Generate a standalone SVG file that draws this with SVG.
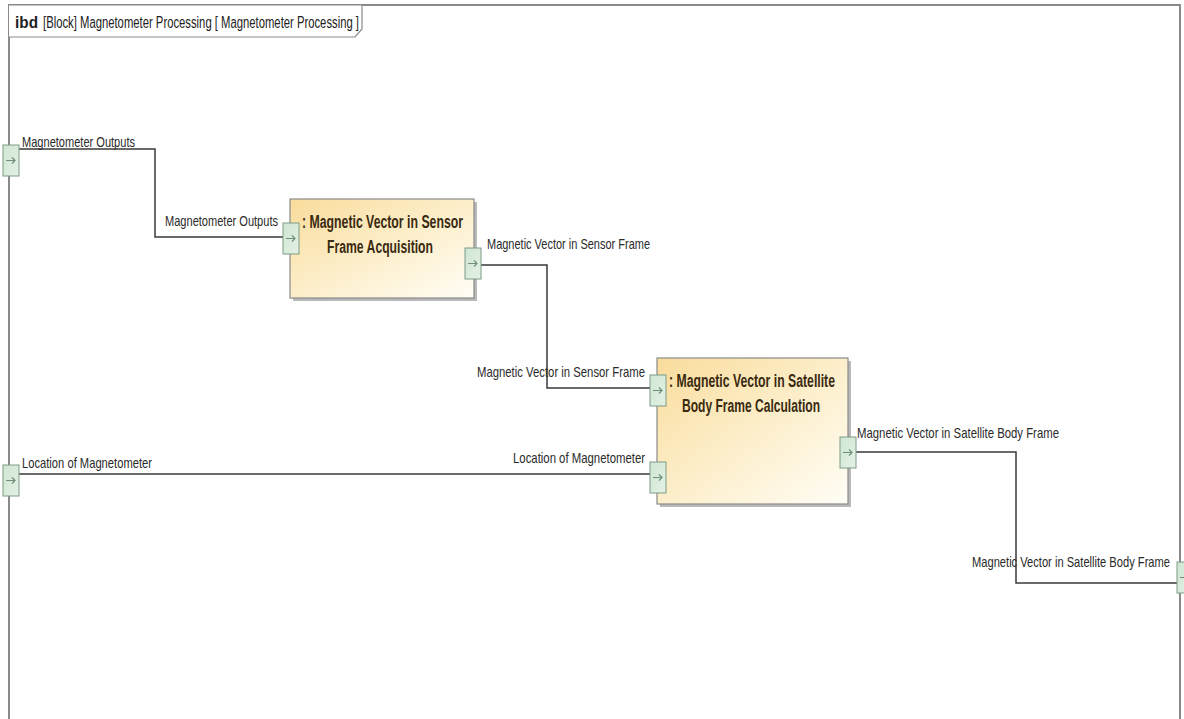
<svg xmlns="http://www.w3.org/2000/svg" width="1184" height="719" viewBox="0 0 1184 719">
  <defs>
    <linearGradient id="partFill" x1="0" y1="0" x2="1" y2="1">
      <stop offset="0" stop-color="#f9dc9c"/>
      <stop offset="0.55" stop-color="#fdf0cf"/>
      <stop offset="1" stop-color="#fffdf6"/>
    </linearGradient>
    <linearGradient id="portFill" x1="0" y1="0" x2="1" y2="1">
      <stop offset="0" stop-color="#cfe6d2"/>
      <stop offset="1" stop-color="#e4f1e5"/>
    </linearGradient>
    <g id="port">
      <rect x="0" y="0" width="16" height="31" fill="url(#portFill)" stroke="#7c9c86" stroke-width="1"/>
      <path d="M3 15.5 H12 M9 12.5 L12 15.5 L9 18.5" fill="none" stroke="#6f8f7a" stroke-width="1.2"/>
    </g>
  </defs>
  <style>
    .lbl { font-family: "Liberation Sans", Arial, sans-serif; font-size: 15px; fill: #2a2a2a; }
    .ttl { font-family: "Liberation Sans", Arial, sans-serif; font-size: 18px; font-weight: bold; fill: #3a2a10; }
    .hdr { font-family: "Liberation Sans", Arial, sans-serif; font-size: 16px; fill: #222; }
    .wire { fill: none; stroke: #3a3a3a; stroke-width: 1.5; }
    .part { fill: url(#partFill); stroke: #8a8a8a; stroke-width: 1.2; }
    .shadow { fill: #b9b9b9; }
  </style>

  <rect width="1184" height="719" fill="#ffffff"/>

  <!-- diagram frame -->
  <g id="frame">
    <path d="M9 725 V5 H1180 V725" fill="none" stroke="#8a8a8a" stroke-width="2"/>
    <path d="M9 5 H362 V29 L355 37 H9" fill="#ffffff" stroke="#8a8a8a" stroke-width="1.2"/>
    <text class="hdr" x="15" y="28" font-size="15" font-weight="bold" textLength="23" lengthAdjust="spacingAndGlyphs">ibd</text>
    <text class="hdr" x="43" y="28" textLength="316" lengthAdjust="spacingAndGlyphs">[Block] Magnetometer Processing [ Magnetometer Processing ]</text>
  </g>

  <!-- connectors -->
  <g id="connectors">
    <polyline class="wire" points="18,149 155,149 155,237 283,237"/>
    <polyline class="wire" points="481,265 547,265 547,388 650,388"/>
    <polyline class="wire" points="18,474 650,474"/>
    <polyline class="wire" points="856,452 1016,452 1016,583 1177,583"/>
  </g>

  <!-- frame boundary ports -->
  <g id="port-magnetometer-outputs">
    <use href="#port" x="3" y="145"/>
    <text class="lbl" x="22" y="147" textLength="113" lengthAdjust="spacingAndGlyphs">Magnetometer Outputs</text>
  </g>
  <g id="port-location-of-magnetometer">
    <use href="#port" x="3" y="465"/>
    <text class="lbl" x="22" y="468" textLength="130" lengthAdjust="spacingAndGlyphs">Location of Magnetometer</text>
  </g>
  <g id="port-satellite-body-frame-out">
    <use href="#port" x="1177" y="562"/>
    <text class="lbl" x="972" y="567" textLength="198" lengthAdjust="spacingAndGlyphs">Magnetic Vector in Satellite Body Frame</text>
  </g>

  <!-- part: sensor frame acquisition -->
  <g id="sensor-frame-acquisition">
    <rect class="shadow" x="293" y="202" width="184" height="99"/>
    <rect class="part" x="290" y="199" width="184" height="99"/>
    <text class="ttl" x="302" y="228" textLength="161" lengthAdjust="spacingAndGlyphs">: Magnetic Vector in Sensor</text>
    <text class="ttl" x="327" y="253" textLength="106" lengthAdjust="spacingAndGlyphs">Frame Acquisition</text>
    <use href="#port" x="283" y="223"/>
    <text class="lbl" x="165" y="226" textLength="113" lengthAdjust="spacingAndGlyphs">Magnetometer Outputs</text>
    <use href="#port" x="465" y="248"/>
    <text class="lbl" x="487" y="249" textLength="163" lengthAdjust="spacingAndGlyphs">Magnetic Vector in Sensor Frame</text>
  </g>

  <!-- part: satellite body frame calculation -->
  <g id="satellite-body-frame-calculation">
    <rect class="shadow" x="660" y="361" width="191" height="146"/>
    <rect class="part" x="657" y="358" width="191" height="146"/>
    <text class="ttl" x="669" y="387" textLength="166" lengthAdjust="spacingAndGlyphs">: Magnetic Vector in Satellite</text>
    <text class="ttl" x="682" y="412" textLength="138" lengthAdjust="spacingAndGlyphs">Body Frame Calculation</text>
    <use href="#port" x="650" y="375"/>
    <text class="lbl" x="477" y="377" textLength="168" lengthAdjust="spacingAndGlyphs">Magnetic Vector in Sensor Frame</text>
    <use href="#port" x="650" y="462"/>
    <text class="lbl" x="513" y="463" textLength="132" lengthAdjust="spacingAndGlyphs">Location of Magnetometer</text>
    <use href="#port" x="840" y="437"/>
    <text class="lbl" x="857" y="438" textLength="202" lengthAdjust="spacingAndGlyphs">Magnetic Vector in Satellite Body Frame</text>
  </g>
</svg>
